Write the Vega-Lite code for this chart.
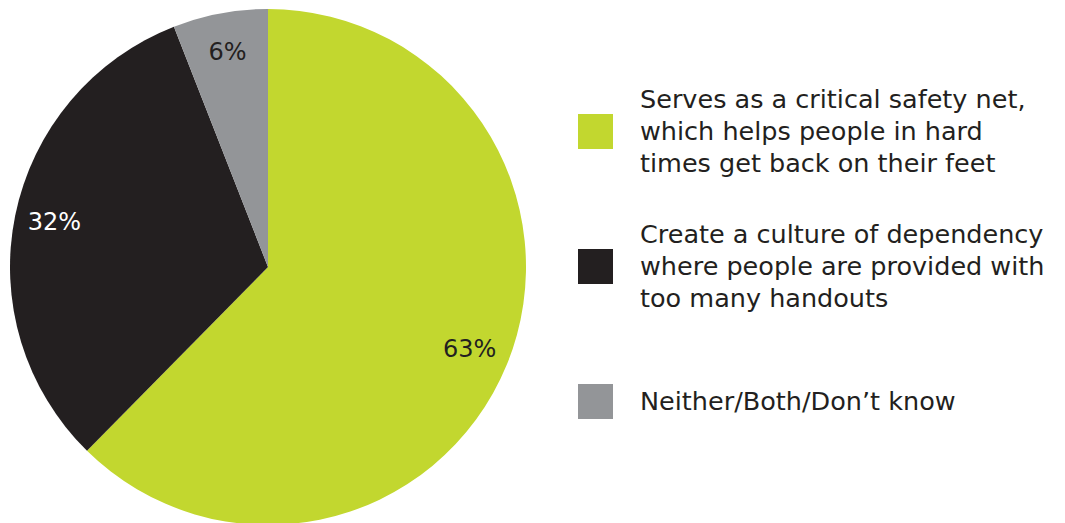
{
  "$schema": "https://vega.github.io/schema/vega-lite/v6.json",
  "width": 536,
  "height": 534,
  "autosize": {"type": "none"},
  "padding": {"left": 0, "top": 0, "right": 529, "bottom": 0},
  "background": "white",
  "config": {"view": {"stroke": null}, "font": "DejaVu Sans"},
  "data": {
    "values": [
      {"cat": "Serves as a critical safety net,|which helps people in hard|times get back on their feet", "pct": 63, "label": "63%", "ord": 1},
      {"cat": "Create a culture of dependency|where people are provided with|too many handouts", "pct": 32, "label": "32%", "ord": 2},
      {"cat": "|Neither/Both/Don’t know|", "pct": 6, "label": "6%", "ord": 3}
    ]
  },
  "encoding": {
    "theta": {"field": "pct", "type": "quantitative", "stack": true},
    "order": {"field": "ord", "type": "quantitative"}
  },
  "layer": [
    {
      "mark": {"type": "arc", "outerRadius": 258},
      "encoding": {
        "color": {
          "field": "cat",
          "type": "nominal",
          "sort": null,
          "scale": {
            "domain": [
              "Serves as a critical safety net,|which helps people in hard|times get back on their feet",
              "Create a culture of dependency|where people are provided with|too many handouts",
              "|Neither/Both/Don’t know|"
            ],
            "range": ["#c2d72f", "#231f20", "#939598"]
          },
          "legend": {
            "title": null,
            "orient": "none",
            "legendX": 578,
            "legendY": 114,
            "padding": 0,
            "symbolType": "square",
            "symbolSize": 1225,
            "symbolStrokeWidth": 0,
            "symbolOpacity": 1,
            "labelExpr": "split(datum.label, '|')",
            "labelFontSize": 25.5,
            "labelFont": "DejaVu Sans",
            "labelColor": "#231f20",
            "labelLimit": 0,
            "labelOffset": 27,
            "rowPadding": 45,
            "encode": {
              "labels": {
                "update": {
                  "lineHeight": {"value": 32},
                  "dy": {"value": -32}
                }
              }
            }
          }
        }
      }
    },
    {
      "mark": {"type": "text", "radius": 218, "fontSize": 24, "font": "DejaVu Sans"},
      "encoding": {
        "text": {"field": "label"},
        "color": {
          "condition": {"test": "datum.ord == 2", "value": "#ffffff"},
          "value": "#231f20"
        }
      }
    }
  ]
}
